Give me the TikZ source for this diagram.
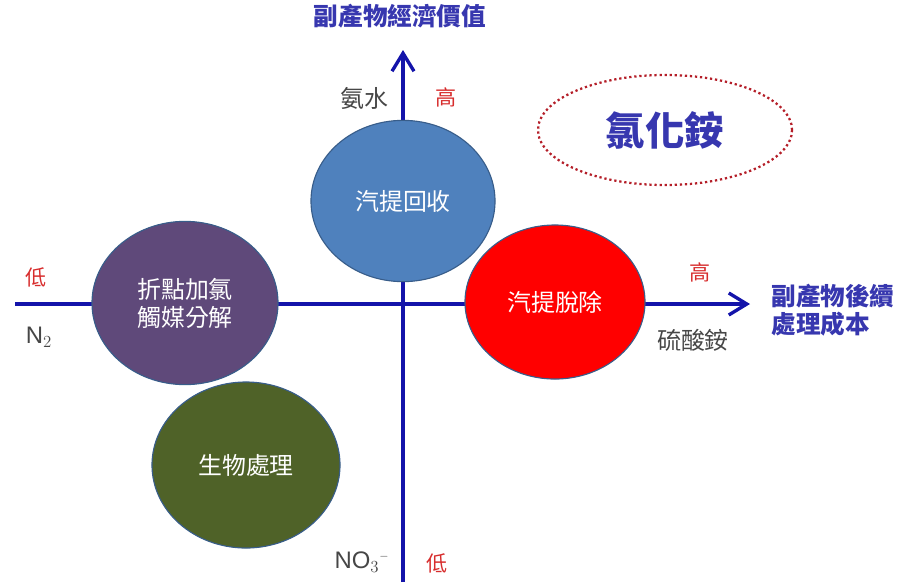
\documentclass[tikz,border=0pt]{standalone}
\usepackage{fontspec}
\setmainfont{Noto Sans CJK TC}
\setsansfont{Liberation Sans}
\usepackage{tikz}
\usetikzlibrary{arrows.meta,shapes.geometric}
\definecolor{axisblue}{RGB}{20,20,170}
\definecolor{labelblue}{RGB}{55,55,175}
\definecolor{lowred}{RGB}{215,45,45}
\definecolor{txtgrey}{RGB}{70,70,70}
\definecolor{rimblue}{RGB}{56,93,138}
\definecolor{stripblue}{RGB}{79,129,189}
\definecolor{stripred}{RGB}{255,0,0}
\definecolor{chlorpurple}{RGB}{95,73,122}
\definecolor{bioolive}{RGB}{79,98,40}
\definecolor{dotred}{RGB}{180,30,40}

\begin{document}
\begin{tikzpicture}[x=0.025cm,y=-0.025cm,
  every node/.style={font=\fontsize{17}{20}\selectfont},
  blob/.style={ellipse,draw=rimblue,line width=0.8pt,text=white,align=center,inner sep=0pt},
  ax/.style={axisblue,line width=2.4pt,-{Straight Barb[length=4.5mm,width=5.5mm,line width=2.4pt]}},
  ttl/.style={labelblue,font=\fontsize{17.5}{20}\selectfont\bfseries,align=left},
  hi/.style={lowred,font=\fontsize{15}{18}\selectfont},
  sub/.style={txtgrey}]
\useasboundingbox (0,0) rectangle (913,587);
\coordinate (xl) at (15,304);
\coordinate (xr) at (750,304);
\coordinate (yb) at (403,582);
\coordinate (yt) at (403,50);
\draw[ax] (xl) -- (xr);
\draw[ax] (yb) -- (yt);
\node[blob,fill=stripblue,minimum width=4.6cm,minimum height=4.03cm] (recov) at (403,201) {汽提回收};
\node[blob,fill=stripred,minimum width=4.5cm,minimum height=3.85cm] (strip) at (555,302) {汽提脫除};
\node[blob,fill=chlorpurple,minimum width=4.65cm,minimum height=4.08cm] (chlor) at (185,303) {折點加氯\\觸媒分解};
\node[blob,fill=bioolive,minimum width=4.7cm,minimum height=4.15cm] (bio) at (246,465) {生物處理};
\node[ellipse,draw=dotred,line width=1.6pt,dotted,minimum width=6.35cm,minimum height=2.75cm] (nh4cl) at (665,130) {};
\node[labelblue,font=\fontsize{28}{32}\selectfont\bfseries] (nh4clt) at (nh4cl) {氯化銨};
\node[ttl] (valt) at (400,16) {副產物經濟價值};
\node[ttl] (cost) at (833,310) {副產物後續\\處理成本};
\node[sub] (nh3) at (364,98) {氨水};
\node[hi] (vhi) at (446,97) {高};
\node[hi] (hlo) at (36,277) {低};
\node[sub,font=\sffamily\fontsize{17}{20}\selectfont] (n2) at (39,337) {N$_2$};
\node[hi] (hhi) at (700,272) {高};
\node[sub] (amsul) at (693,340) {硫酸銨};
\node[sub,font=\sffamily\fontsize{17}{20}\selectfont,inner sep=1pt] (no3) at (362,562) {NO$_3{}^{\scriptscriptstyle -}$};
\node[hi] (vlo) at (437,563) {低};
\end{tikzpicture}
\end{document}
